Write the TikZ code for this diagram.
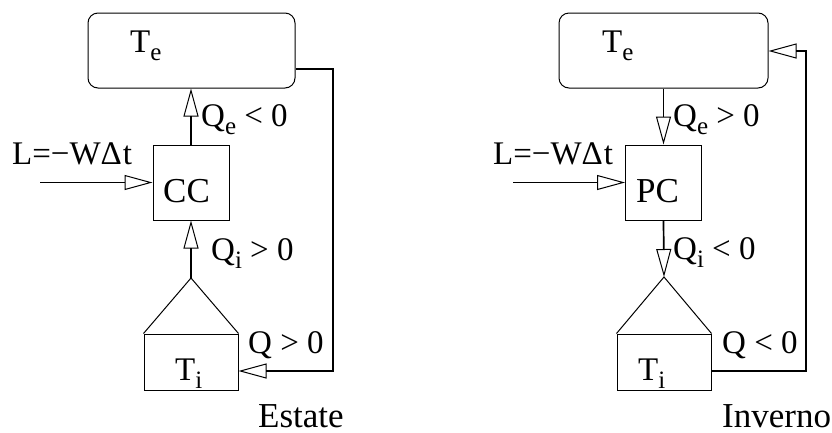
\documentclass[tikz,border=0pt]{standalone}
\usepackage{fontspec}
\setmainfont{Liberation Serif}
\usetikzlibrary{arrows.meta}
\newcommand{\lsub}[1]{\raisebox{-8.5pt}{\fontsize{25}{25}\selectfont #1}}
\begin{document}
\begin{tikzpicture}[x=1pt,y=-1pt,
  font=\fontsize{33}{36}\selectfont,
  box/.style={draw, line width=1pt, inner sep=0pt},
  conn/.style={line width=1.7pt, -{Triangle[open,length=28pt,width=15pt,line width=1pt]}},
  thin/.style={line width=1pt},
  txt/.style={anchor=base west, inner sep=0pt},
  big/.style={font=\fontsize{35}{38}\selectfont, text depth=0pt}]
\useasboundingbox (0,0) rectangle (832,432);

% ---------- Estate ----------
\node[box, rounded corners=10pt, minimum width=207pt, minimum height=75pt] (teL) at (191.5,50.5) {};
\node[box, minimum width=76pt, minimum height=75pt] (cc) at (191,182.5) {};
\node[box, minimum width=94pt, minimum height=56pt] (tiL) at (191,362) {};
\coordinate (apexL) at (191,278);
\draw[thin] (tiL.north west) -- (apexL) -- (tiL.north east);
\coordinate (lstartL) at (40,182.5);
\coordinate (cornL1) at (333,69);
\coordinate (cornL2) at (333,371);

\draw[conn] (cc.north) -- (cc.north |- teL.south);
\draw[conn] (lstartL) -- (cc.west);
\draw[conn] (apexL) -- (cc.south);
\draw[conn] (teL.east |- cornL1) -- (cornL1) -- (cornL2) -- (tiL.east |- cornL2);

\node[txt] (teLt) at (130,52) {T\lsub{e}};
\node[txt, big] (ccT) at (163,202) {CC};
\node[txt] (tiLt) at (175,380) {T\lsub{i}};
\node[txt] (lL) at (12,164) {L=−WΔ\kern1pt t};
\node[txt] (qeL) at (201,126) {Q\lsub{e} < 0};
\node[txt] (qiL) at (211,260) {Q\lsub{i} > 0};
\node[txt] (qL) at (248,353) {Q > 0};
\node[txt, big] (estate) at (258,427) {Estate};

% ---------- Inverno ----------
\node[box, rounded corners=10pt, minimum width=209pt, minimum height=75pt] (teR) at (663.5,50.5) {};
\node[box, minimum width=76pt, minimum height=75pt] (pc) at (663.5,182.5) {};
\node[box, minimum width=94pt, minimum height=56pt] (tiR) at (664,362) {};
\coordinate (apexR) at (664,277);
\draw[thin] (tiR.north west) -- (apexR) -- (tiR.north east);
\coordinate (lstartR) at (513,182.5);
\coordinate (cornR1) at (806,371);
\coordinate (cornR2) at (806,51);

\draw[conn] (pc.north |- teR.south) -- (pc.north);
\draw[conn] (lstartR) -- (pc.west);
\draw[conn] (pc.south) -- (apexR);
\draw[conn] (tiR.east |- cornR1) -- (cornR1) -- (cornR2) -- (teR.east |- cornR2);

\node[txt] (teRt) at (602,52) {T\lsub{e}};
\node[txt, big] (pcT) at (636,202) {PC};
\node[txt] (tiRt) at (638,380) {T\lsub{i}};
\node[txt] (lR) at (493,164) {L=−WΔ\kern1pt t};
\node[txt] (qeR) at (673,126) {Q\lsub{e} > 0};
\node[txt] (qiR) at (673,259) {Q\lsub{i} < 0};
\node[txt] (qR) at (722,353) {Q < 0};
\node[txt, big] (inverno) at (722,427) {Inverno};
\end{tikzpicture}
\end{document}
